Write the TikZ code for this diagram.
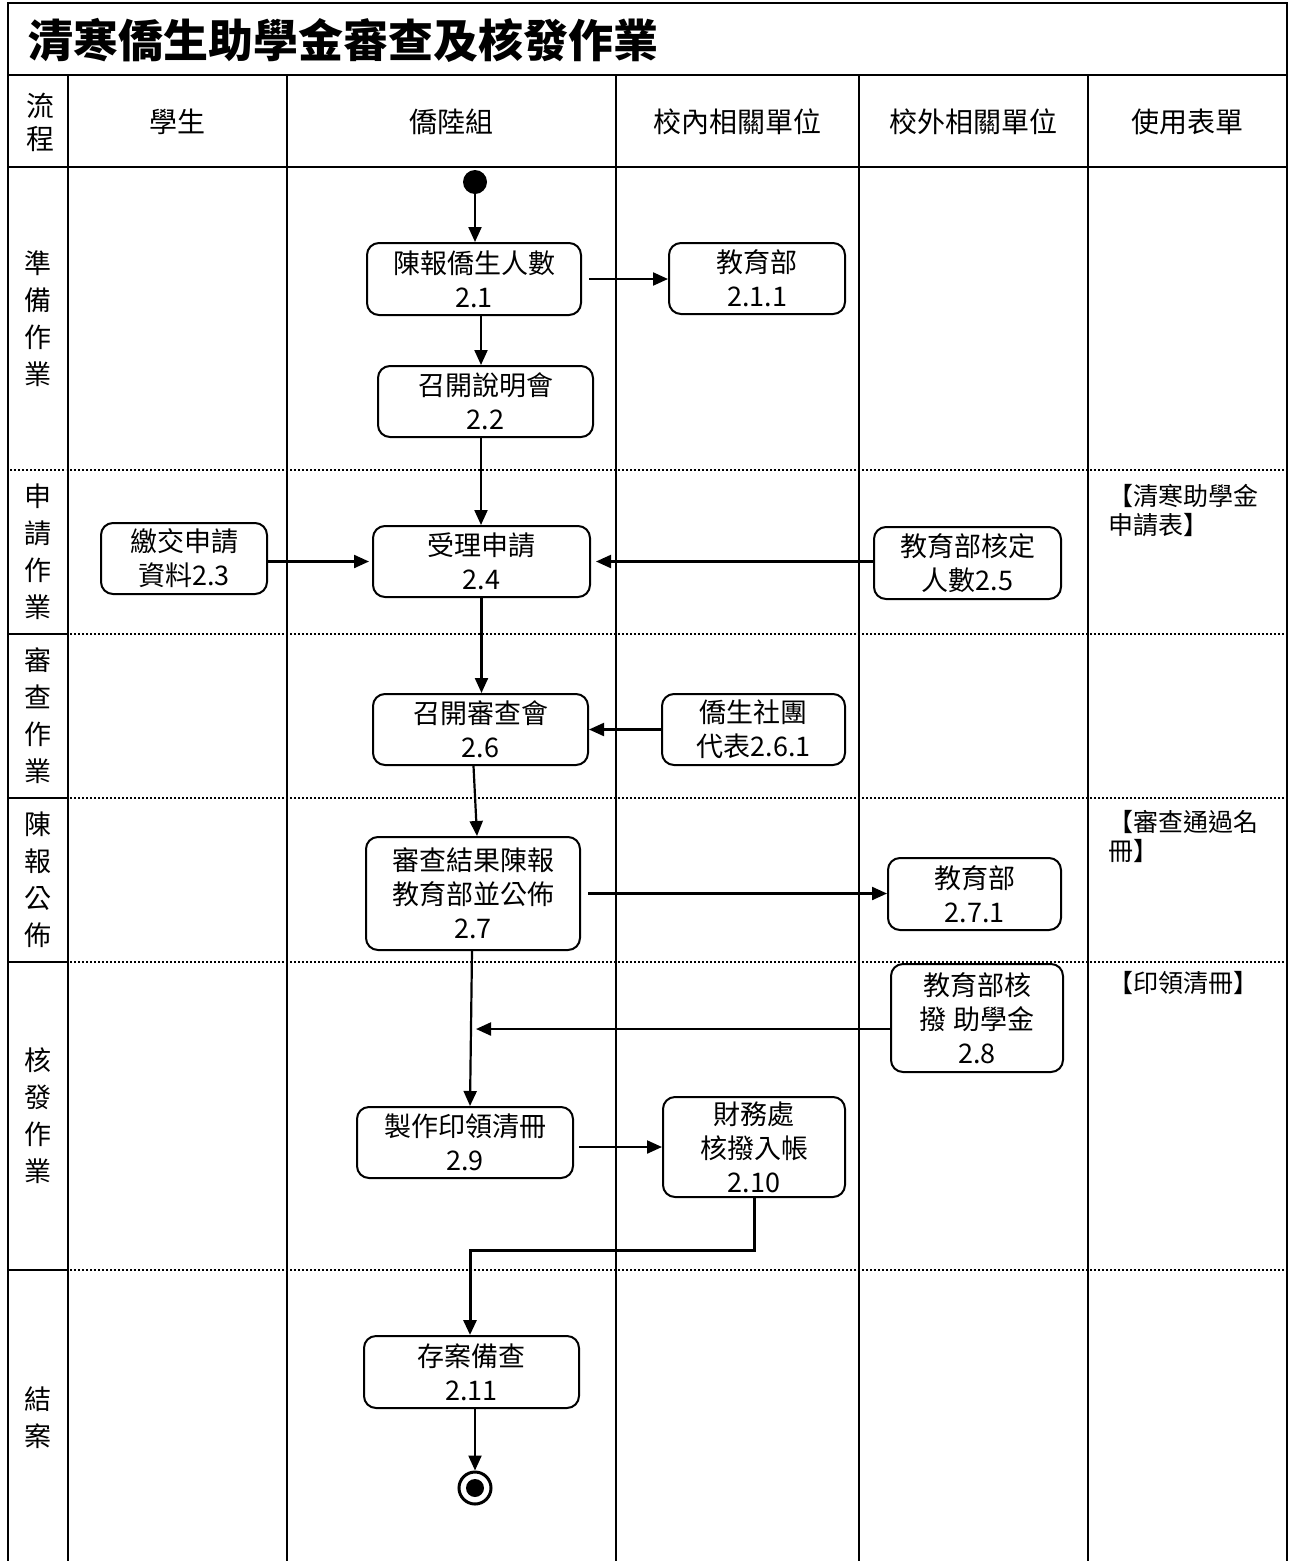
\documentclass[tikz,border=0pt]{standalone}
\usepackage{fontspec}
\setmainfont{Noto Sans CJK TC}
\usetikzlibrary{arrows.meta,calc}
\begin{document}
\begin{tikzpicture}[x=1pt,y=-1pt,
  gridline/.style={line width=2pt},
  dotline/.style={line width=2pt, dash pattern=on 2pt off 2pt},
  box/.style={draw, line width=2pt, rounded corners=12pt, align=center, inner sep=0pt,
    font=\fontsize{27}{34}\selectfont},
  arr/.style={line width=2.2pt, -{Triangle[length=15pt,width=13pt]}},
  arrthick/.style={line width=3pt, -{Triangle[length=15pt,width=13pt]}},
  head/.style={align=center, inner sep=0pt, font=\fontsize{28}{33}\selectfont},
  phase/.style={align=center, inner sep=0pt, font=\fontsize{27}{37}\selectfont},
  form/.style={align=left, inner sep=0pt, anchor=north west, font=\fontsize{25}{29}\selectfont},
  titletext/.style={inner sep=0pt, anchor=west, font=\fontsize{45}{50}\selectfont\bfseries}
]
\useasboundingbox (0,0) rectangle (1289,1561);

% frame
\draw[gridline] (8,1565) -- (8,3) -- (1287,3) -- (1287,1565);
\draw[gridline] (8,75) -- (1287,75);
\draw[gridline] (8,167) -- (1287,167);
\foreach \x in {68,287,616,859,1088} \draw[gridline] (\x,75) -- (\x,1565);
% phase separators
\foreach \y in {470,634,798,962,1270} \draw[dotline] (70,\y) -- (1287,\y);
\draw[dotline] (10,470) -- (66,470);
\foreach \y in {634,798,962,1270} \draw[gridline] (8,\y) -- (68,\y);

% title and headers
\node[titletext] (title) at (28,40) {清寒僑生助學金審查及核發作業};
\node[head] (h0) at (40,122) {流\\程};
\node[head] (h1) at (177.5,122) {學生};
\node[head] (h2) at (451.5,122) {僑陸組};
\node[head] (h3) at (737.5,122) {校內相關單位};
\node[head] (h4) at (973.5,122) {校外相關單位};
\node[head] (h5) at (1187.5,122) {使用表單};

% phase labels
\node[phase] (p1) at (38,318.5) {準\\備\\作\\業};
\node[phase] (p2) at (38,552) {申\\請\\作\\業};
\node[phase] (p3) at (38,716) {審\\查\\作\\業};
\node[phase] (p4) at (38,880) {陳\\報\\公\\佈};
\node[phase] (p5) at (38,1116) {核\\發\\作\\業};
\node[phase] (p6) at (38,1418) {結\\案};

% forms
\node[form] (f1) at (1108,484) {【清寒助學金\\申請表】};
\node[form] (f2) at (1108,810) {【審查通過名\\冊】};
\node[form] (f3) at (1108,971) {【印領清冊】};

% activity nodes
\node[circle, fill=black, inner sep=0pt, minimum size=24pt] (start) at (475,182) {};
\node[box, minimum width=214pt, minimum height=72pt] (n21) at (474,279) {陳報僑生人數\\2.1};
\node[box, minimum width=176pt, minimum height=71pt] (n211) at (757,278.5) {教育部\\2.1.1};
\node[box, minimum width=215pt, minimum height=71pt] (n22) at (485.5,401.5) {召開說明會\\2.2};
\node[box, minimum width=166pt, minimum height=71pt] (n23) at (184,558.5) {繳交申請\\資料2.3};
\node[box, minimum width=217pt, minimum height=71pt] (n24) at (481.5,561.5) {受理申請\\2.4};
\node[box, minimum width=187pt, minimum height=72pt] (n25) at (967.5,563) {教育部核定\\人數2.5};
\node[box, minimum width=215pt, minimum height=71pt] (n26) at (480.5,729.5) {召開審查會\\2.6};
\node[box, minimum width=183pt, minimum height=71pt] (n261) at (753.5,729.5) {僑生社團\\代表2.6.1};
\node[box, minimum width=214pt, minimum height=113pt] (n27) at (473,893.5) {審查結果陳報\\教育部並公佈\\2.7};
\node[box, minimum width=173pt, minimum height=72pt] (n271) at (974.5,894) {教育部\\2.7.1};
\node[box, minimum width=172pt, minimum height=108pt] (n28) at (977,1018) {教育部核\\撥 助學金\\2.8};
\node[box, minimum width=216pt, minimum height=71pt] (n29) at (465,1142.5) {製作印領清冊\\2.9};
\node[box, minimum width=182pt, minimum height=100pt] (n210) at (754,1147) {財務處\\核撥入帳\\2.10};
\node[box, minimum width=215pt, minimum height=72pt] (n2x) at (471.5,1372) {存案備查\\2.11};
\node[circle, draw, line width=3pt, inner sep=0pt, minimum size=32pt] (end) at (475,1488) {};
\fill (end.center) circle (9pt);

% helper coordinates
\coordinate (m28) at (476,1029);
\coordinate (b10) at (470,1250);

% connectors
\draw[arr] (start.south) -- (start.south |- n21.north);
\draw[arr] ([xshift=7pt]n21.east) -- (n21.east -| n211.west);
\draw[arr] ([xshift=7pt]n21.south) -- ([xshift=7pt]n21.south |- n22.north);
\draw[arr] ([xshift=-4.5pt]n22.south) -- ([xshift=-4.5pt]n22.south |- n24.north);
\draw[arr] (n23.east |- n24.west) -- ([xshift=-3pt]n24.west);
\draw[arr] (n25.west |- n24.east) -- ([xshift=5pt]n24.east);
\draw[arr] (n24.south) -- (n24.south |- n26.north);
\draw[arr] (n261.west) -- (n26.east);
\draw[arr] ([xshift=-7pt]n26.south) -- ([xshift=4pt]n27.north);
\draw[arr] ([xshift=7pt]n27.east) -- (n27.east -| n271.west);
\draw[arr] ([xshift=-1pt]n27.south) -- ([xshift=5pt]n29.north);
\draw[arr] (n28.west |- m28) -- (m28);
\draw[arr] ([xshift=5pt]n29.east |- n210.west) -- (n210.west);
\draw[arrthick] (n210.south) |- (b10) -- (b10 |- n2x.north);
\draw[arr] (n2x.south -| end) -- (end.north);
\end{tikzpicture}
\end{document}
